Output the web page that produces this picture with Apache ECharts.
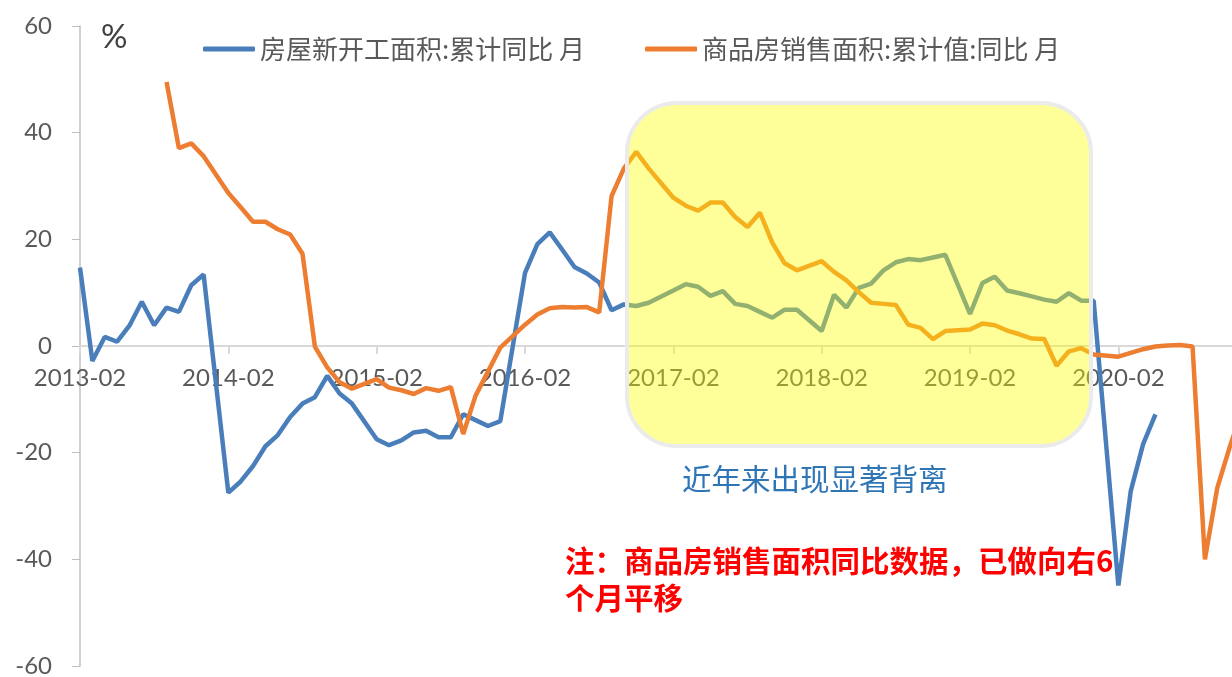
<!DOCTYPE html>
<html>
<head>
<meta charset="utf-8">
<script src="https://cdn.jsdelivr.net/npm/echarts@6/dist/echarts.min.js"></script>
<style>
  html, body { margin: 0; padding: 0; background: #fff; }
  #chart { width: 1232px; height: 677px; }
</style>
</head>
<body>
<div id="chart"></div>
<script>
// 月份：2013-02 ~ 2020-12
const months = []
for (let y = 2013; y <= 2020; y++) {
  for (let m = 1; m <= 12; m++) {
    if (y === 2013 && m < 2) continue
    months.push(y + '-' + (m < 10 ? '0' + m : m))
  }
}

const seriesNames = ['房屋新开工面积:累计同比 月', '商品房销售面积:累计值:同比 月']

// 房屋新开工面积 累计同比 (1月无数据)
const newStarts = [
  14.7, -2.8, 1.7, 0.8, 3.8, 8.3, 3.9, 7.2, 6.4, 11.4, 13.4,
  null,
  -27.5, -25.4, -22.5, -18.8, -16.7, -13.3, -10.8, -9.6, -5.6, -8.9, -10.8,
  null,
  -17.5, -18.6, -17.7, -16.2, -15.9, -17.1, -17.1, -12.8, -13.9, -15.0, -14.1,
  null,
  13.7, 19.1, 21.3, 18.1, 14.8, 13.6, 11.9, 6.7, 7.8, 7.5, 8.1,
  null,
  10.4, 11.6, 11.1, 9.4, 10.3, 7.9, 7.5, 6.4, 5.3, 6.8, 6.8,
  null,
  2.8, 9.6, 7.2, 10.9, 11.7, 14.2, 15.7, 16.3, 16.1, 16.6, 17.1,
  null,
  6.0, 11.8, 13.0, 10.4, 9.9, 9.3, 8.7, 8.3, 9.9, 8.5, 8.5,
  null,
  -44.9, -27.2, -18.4, -12.8,
  null, null, null, null, null, null, null
]

// 商品房销售面积 累计同比 (已向右平移)
const salesArea = [
  null, null, null, null, null, null, null,
  49.5, 37.1, 38.0, 35.6,
  null,
  28.7, 26.0, 23.3, 23.3, 21.9, 20.9, 17.3, -0.1, -4.0, -6.8, -8.0,
  null,
  -6.2, -7.8, -8.3, -9.0, -7.9, -8.4, -7.7, -16.5, -9.3, -4.8, -0.3,
  null,
  4.0, 5.9, 7.1, 7.3, 7.2, 7.3, 6.3, 28.1, 33.3, 36.4, 33.3,
  null,
  27.8, 26.3, 25.4, 26.9, 26.9, 24.2, 22.3, 25.0, 19.4, 15.5, 14.2,
  null,
  15.9, 13.9, 12.3, 10.1, 8.1, 7.9, 7.7, 4.0, 3.4, 1.3, 2.8,
  null,
  3.1, 4.2, 3.9, 2.9, 2.2, 1.4, 1.3, -3.7, -1.0, -0.4, -1.6,
  null,
  -2.0, -1.3, -0.6, -0.1, 0.1, 0.2, -0.1, -40.0, -26.6, -19.0, -12.3
]

const colors = ['#4A7EBB', '#ED7D31']
const numFont = 'Lato, "Noto Sans CJK SC", sans-serif'
const cjkFont = '"Noto Sans CJK SC", sans-serif'

const gridTop = 26
const gridBottom = 11
const gridHeight = 677 - gridTop - gridBottom

const myChart = echarts.init(document.getElementById('chart'))

// 每年2月显示一个刻度
const everyYear = (index) => index % 12 === 0

const option = {
  animation: false,
  title: {
    text: '%',
    left: 96,
    top: 16,
    textStyle: { fontSize: 33, fontWeight: 'normal', color: '#404040', fontFamily: numFont }
  },
  legend: {
    data: seriesNames,
    left: 198,
    top: 31,
    icon: 'roundRect',
    itemWidth: 52,
    itemHeight: 5,
    itemGap: 60,
    textStyle: { fontSize: 26, color: '#595959', fontFamily: cjkFont }
  },
  grid: {
    left: 80,
    right: -10,
    top: gridTop,
    bottom: gridBottom,
    outerBoundsMode: 'none'
  },
  xAxis: {
    type: 'category',
    data: months,
    boundaryGap: false,
    // 把x轴整体上移到0值位置（y轴范围对称）
    offset: -gridHeight / 2,
    axisLine: { onZero: false, lineStyle: { color: '#d9d9d9', width: 2 } },
    axisTick: { show: true, interval: everyYear, length: 8, lineStyle: { color: '#d9d9d9', width: 2 } },
    axisLabel: {
      show: true,
      interval: everyYear,
      margin: 20,
      fontSize: 24,
      color: '#595959',
      fontFamily: numFont
    }
  },
  yAxis: {
    type: 'value',
    min: -60,
    max: 60,
    interval: 20,
    splitLine: { show: false },
    axisLine: { show: true, lineStyle: { color: '#bfbfbf', width: 1.5 } },
    axisTick: { show: true, length: 8, lineStyle: { color: '#bfbfbf' } },
    axisLabel: { margin: 28, fontSize: 24, color: '#595959', fontFamily: numFont }
  },
  series: [
    {
      name: seriesNames[0],
      type: 'line',
      data: newStarts,
      showSymbol: false,
      connectNulls: true,
      color: colors[0],
      lineStyle: { width: 4.5, color: colors[0] }
    },
    {
      name: seriesNames[1],
      type: 'line',
      data: salesArea,
      showSymbol: false,
      connectNulls: true,
      color: colors[1],
      lineStyle: { width: 4.5, color: colors[1] }
    }
  ],
  graphic: [
    {
      type: 'rect',
      z: 100,
      shape: { x: 627, y: 103, width: 464, height: 343, r: 50 },
      style: { fill: 'rgba(255,255,0,0.4)', stroke: '#ebebeb', lineWidth: 4 }
    },
    {
      type: 'text',
      z: 100,
      left: 682,
      top: 464,
      style: { text: '近年来出现显著背离', fontSize: 29.5, fill: '#2E75B6', fontFamily: cjkFont }
    },
    {
      type: 'text',
      z: 100,
      left: 565,
      top: 542,
      style: {
        text: '注：商品房销售面积同比数据，已做向右6\n个月平移',
        fontSize: 29.5,
        lineHeight: 37,
        fontWeight: 'bold',
        fill: '#ff0000',
        fontFamily: cjkFont
      }
    }
  ]
}

myChart.setOption(option)
</script>
</body>
</html>
